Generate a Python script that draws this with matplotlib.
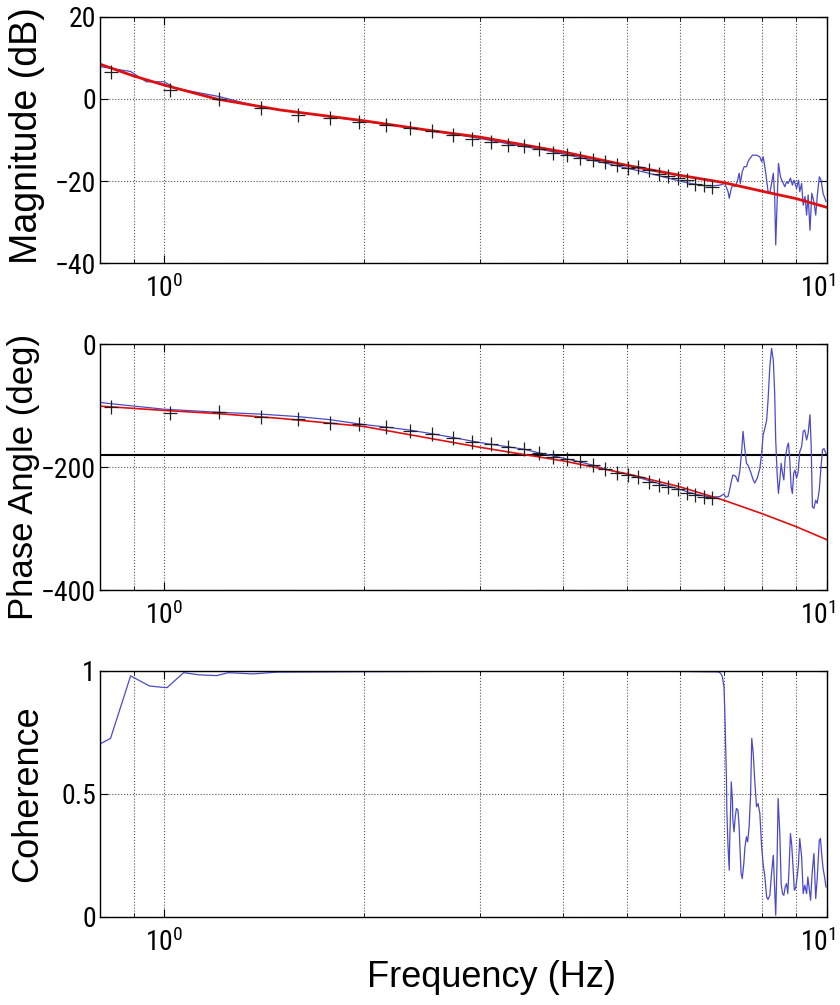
import matplotlib
matplotlib.use('Agg')
import matplotlib.pyplot as plt
import matplotlib.ticker as mticker
import matplotlib.transforms as mtrans
from matplotlib import font_manager

plt.rcParams['font.family'] = ['Liberation Sans', 'DejaVu Sans']
plt.rcParams['mathtext.default'] = 'regular'

# narrow face for the tick numbers, if one is installed
names = set(f.name for f in font_manager.fontManager.ttflist)
tick_fams = [n for n in ['Liberation Sans Narrow', 'Roboto Condensed', 'Arial Narrow'] if n in names]
tick_fams = tick_fams + ['Liberation Sans', 'DejaVu Sans']
narrow = len(tick_fams) > 2

# test points (+)
freq_pts = [0.83, 1.02, 1.21, 1.40, 1.59, 1.78, 1.97, 2.16, 2.35, 2.54, 2.73, 2.92, 3.11, 3.30, 3.49, 3.68,
            3.87, 4.06, 4.25, 4.44, 4.63, 4.82, 5.01, 5.20, 5.39, 5.58, 5.77, 5.96, 6.15, 6.34, 6.53, 6.72]
mag_pts = [6.7, 2.2, 0.0, -2.3, -3.9, -4.7, -5.5, -6.3, -7.1, -7.8, -8.9, -9.8, -10.4, -11.2, -11.5, -12.3,
           -13.1, -13.7, -14.5, -14.9, -15.4, -16.1, -16.8, -16.5, -17.3, -18.3, -18.9, -19.3, -19.8, -20.8, -21.0, -21.4]
phase_pts = [-102, -112, -110, -118, -122, -129, -130, -135, -141, -147, -153, -159, -163, -167, -170, -177,
             -183, -187, -191, -197, -204, -210, -213, -217, -224, -229, -232, -236, -242, -245, -248, -251]

# model fit (red)
fit_mag_freq = [0.8, 0.9, 1.0, 1.2, 1.5, 2.0, 2.5, 3.0, 4.0, 5.0, 6.0, 7.0, 8.0, 9.0, 10.0]
fit_mag = [8.5, 5.6, 3.4, 0.0, -2.7, -5.3, -7.6, -9.3, -12.9, -16.2, -18.6, -20.4, -22.5, -24.3, -26.4]
fit_ph_freq = [0.8, 1.0, 1.2, 1.5, 2.0, 2.6, 3.0, 4.0, 5.0, 6.0, 7.0, 8.0, 9.0, 10.0]
fit_ph = [-101, -108, -113, -121, -134, -156, -168, -190, -211, -232, -254, -276, -297, -318]

# measured response (blue)
mag_freq = [0.80, 0.83, 0.89, 0.94, 1.00, 1.04, 1.21, 1.40, 1.59, 1.78, 1.97, 2.16, 2.35, 2.54, 2.73, 2.92,
            3.11, 3.30, 3.49, 3.68, 3.87, 4.06, 4.25, 4.44, 4.63, 4.82, 5.01, 5.20, 5.39, 5.58, 5.77, 5.96,
            6.15, 6.34, 6.53, 6.72,
            6.90, 7.02, 7.10, 7.13, 7.18, 7.22, 7.27, 7.33, 7.38, 7.41, 7.46, 7.51, 7.57, 7.61, 7.66, 7.73,
            7.84, 7.93, 7.98, 8.02, 8.07, 8.12, 8.16, 8.21, 8.26, 8.31, 8.35, 8.38, 8.42, 8.46, 8.52, 8.58,
            8.65, 8.70, 8.75, 8.82, 8.88, 8.93, 9.01, 9.07, 9.11, 9.17, 9.22, 9.28, 9.33, 9.38, 9.44, 9.50,
            9.57, 9.63, 9.68, 9.75, 9.81, 9.88, 9.98]
mag_meas = [7.9, 7.5, 6.7, 4.2, 4.2, 2.6, 0.6, -2.0, -3.3, -4.3, -5.3, -6.2, -7.0, -7.8, -8.6, -9.3,
            -10.1, -10.9, -11.6, -12.2, -12.9, -13.6, -14.3, -15.0, -15.6, -16.3, -16.9, -17.5, -18.1, -18.7, -19.3, -19.9,
            -20.4, -20.8, -21.1, -21.2,
            -21.0, -20.6, -22.6, -24.2, -21.8, -21.0, -21.4, -20.2, -18.1, -20.6, -17.7, -16.5, -16.5, -15.3, -14.5, -13.7,
            -13.7, -14.1, -15.3, -14.1, -16.5, -19.8, -22.6, -23.0, -20.6, -18.1, -23.8, -35.6, -25.4, -15.7, -19.0, -20.2,
            -21.4, -20.2, -20.6, -19.3, -21.0, -19.8, -21.8, -19.8, -22.6, -20.6, -25.9, -23.8, -28.3, -23.4, -32.0, -23.0,
            -25.0, -28.3, -23.8, -19.0, -19.8, -23.0, -25.0]

ph_freq = [0.80, 0.83, 1.00, 1.21, 1.40, 1.59, 1.78, 1.97, 2.16, 2.35, 2.54, 2.73, 2.92, 3.11, 3.30, 3.49,
           3.68, 3.87, 4.06, 4.25, 4.44, 4.63, 4.82, 5.01, 5.20, 5.39, 5.58, 5.77, 5.96, 6.15, 6.34, 6.53, 6.72,
           6.90, 7.00, 7.04, 7.10, 7.14, 7.18, 7.22, 7.29, 7.35, 7.40, 7.44, 7.48, 7.52, 7.57, 7.61, 7.68,
           7.75, 7.79, 7.86, 7.93, 7.98, 8.02, 8.07, 8.12, 8.16, 8.21, 8.26, 8.31, 8.35, 8.38, 8.42, 8.46,
           8.50, 8.54, 8.58, 8.62, 8.66, 8.72, 8.76, 8.80, 8.84, 8.88, 8.92, 8.96, 9.01, 9.06, 9.11, 9.17,
           9.22, 9.27, 9.33, 9.38, 9.44, 9.48, 9.52, 9.57, 9.63, 9.68, 9.75, 9.80, 9.86, 9.91, 9.98]
ph_meas = [-95, -97, -106, -111, -114, -118, -123, -130, -135, -140, -146, -152, -158, -163, -167, -171,
           -177, -182, -187, -192, -197, -203, -208, -212, -217, -222, -227, -231, -235, -240, -244, -247, -249,
           -248, -244, -249, -248, -237, -224, -213, -215, -224, -205, -178, -142, -167, -194, -197, -208,
           -221, -226, -218, -202, -178, -148, -137, -124, -91, -37, -7, -26, -80, -156, -210, -243,
           -221, -194, -210, -221, -186, -167, -161, -189, -232, -243, -210, -205, -218, -208, -175, -167,
           -142, -140, -156, -145, -115, -167, -265, -267, -254, -259, -237, -205, -172, -170, -178]

coh_freq = [0.80, 0.83, 0.89, 0.95, 0.98, 1.01, 1.07, 1.13, 1.20, 1.25, 1.36, 1.48, 2.0, 2.5, 3.0, 4.0,
            5.0, 6.0, 6.43, 6.86,
            6.92, 6.96, 7.00, 7.02, 7.04, 7.06, 7.07, 7.10, 7.13, 7.14, 7.17, 7.18, 7.21, 7.22, 7.25, 7.28,
            7.31, 7.35, 7.38, 7.40, 7.43, 7.46, 7.50, 7.53, 7.57, 7.60, 7.64, 7.68, 7.71, 7.75, 7.79, 7.84,
            7.88, 7.93, 7.98, 8.02, 8.07, 8.12, 8.16, 8.21, 8.26, 8.31, 8.35, 8.38, 8.42, 8.45, 8.50, 8.54,
            8.58, 8.62, 8.66, 8.70, 8.74, 8.78, 8.82, 8.86, 8.90, 8.94, 8.98, 9.03, 9.07, 9.11, 9.17, 9.22,
            9.27, 9.33, 9.37, 9.42, 9.46, 9.51, 9.57, 9.63, 9.68, 9.75, 9.79, 9.84, 9.88, 9.93, 9.98]
coh = [0.703, 0.726, 0.980, 0.939, 0.935, 0.932, 0.993, 0.984, 0.981, 0.993, 0.988, 0.995, 0.997, 0.998, 0.999, 0.999,
       0.999, 0.998, 0.997, 0.996,
       0.991, 0.977, 0.936, 0.841, 0.706, 0.570, 0.434, 0.285, 0.190, 0.299, 0.475, 0.549, 0.475, 0.394, 0.346, 0.407,
       0.441, 0.434, 0.366, 0.285, 0.177, 0.156, 0.217, 0.285, 0.326, 0.305, 0.366, 0.502, 0.726, 0.665, 0.556, 0.448,
       0.461, 0.421, 0.285, 0.217, 0.163, 0.081, 0.071, 0.088, 0.177, 0.251, 0.109, 0.007, 0.231, 0.482, 0.339, 0.136,
       0.095, 0.088, 0.122, 0.136, 0.095, 0.204, 0.339, 0.292, 0.204, 0.109, 0.116, 0.163, 0.217, 0.319, 0.244, 0.095,
       0.129, 0.095, 0.163, 0.109, 0.068, 0.177, 0.258, 0.075, 0.156, 0.312, 0.319, 0.244, 0.197, 0.163, 0.122]

x_ticks = [1, 10]
x_ticklabels = ['$10^{0}$', '$10^{1}$']

blue = '#4a4ac8'

fig = plt.figure(figsize=(8.4, 10.05), dpi=100)
ax1 = fig.add_axes([0.119, 0.7383, 0.865, 0.2448])
ax2 = fig.add_axes([0.119, 0.4129, 0.865, 0.2448])
ax3 = fig.add_axes([0.119, 0.0876, 0.865, 0.2448])

ax1.plot(mag_freq, mag_meas, color=blue, lw=0.9)
ax1.plot(fit_mag_freq, fit_mag, color='#e01010', lw=2.0)
ax1.plot(freq_pts, mag_pts, '+', color='#202020', ms=10, mew=0.9)
ax1.set_ylim(-40, 20)
ax1.set_yticks([-40, -20, 0, 20])
ax1.set_ylabel('Magnitude (dB)', fontsize=27)
ax1.yaxis.set_label_coords(-0.075, 0.52)

ax2.axhline(-180, color='black', lw=1.5)
ax2.plot(ph_freq, ph_meas, color=blue, lw=0.9)
ax2.plot(fit_ph_freq, fit_ph, color='#e01010', lw=1.2)
ax2.plot(freq_pts, phase_pts, '+', color='#202020', ms=10, mew=0.9)
ax2.set_ylim(-400, 0)
ax2.set_yticks([-400, -200, 0])
ax2.set_ylabel('Phase Angle (deg)', fontsize=25)
ax2.yaxis.set_label_coords(-0.082, 0.46)

ax3.plot(coh_freq, coh, color=blue, lw=0.9)
ax3.set_ylim(0, 1)
ax3.set_yticks([0, 0.5, 1])
ax3.set_yticklabels(['0', '0.5', '1'])
ax3.set_ylabel('Coherence', fontsize=26)
ax3.yaxis.set_label_coords(-0.075, 0.5)

tick_size = 20 if narrow else 18
shift_left = mtrans.ScaledTranslation(-0.09, 0, fig.dpi_scale_trans)
for ax in [ax1, ax2, ax3]:
    ax.set_xscale('log')
    ax.set_xlim(0.8, 10)
    ax.set_xticks(x_ticks)
    ax.set_xticklabels(x_ticklabels)
    ax.xaxis.set_minor_formatter(mticker.NullFormatter())
    ax.grid(True, which='both', axis='x', ls=':', color='#555555', lw=0.8)
    ax.grid(True, which='major', axis='y', ls=':', color='#555555', lw=0.8)
    ax.tick_params(which='both', direction='in', top=True, right=True, labelsize=tick_size)
    ax.tick_params(which='major', length=6)
    ax.tick_params(which='minor', length=3)
    ax.tick_params(axis='x', pad=8)
    ax.tick_params(axis='y', pad=3)
    for lab in ax.get_yticklabels() + ax.get_xticklabels():
        lab.set_family(tick_fams)
    # keep the 10^1 label inside the picture
    last = ax.get_xticklabels()[-1]
    last.set_transform(last.get_transform() + shift_left)
    for sp in ax.spines.values():
        sp.set_linewidth(1.0)

fig.text(0.585, 1 - 987 / 1005, 'Frequency (Hz)', fontsize=26, ha='center', va='baseline')

fig.savefig('out.png', dpi=100)
